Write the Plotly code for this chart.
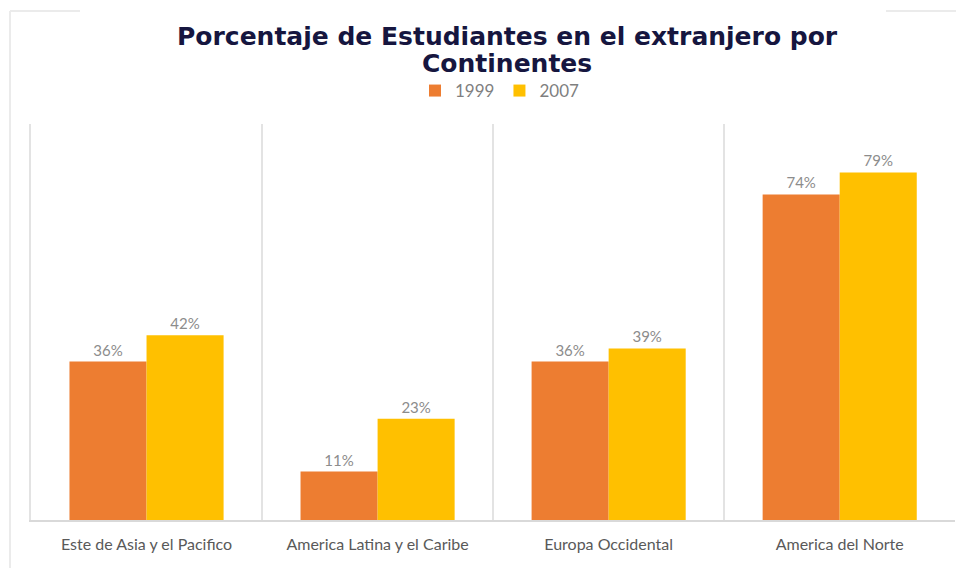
import plotly.graph_objects as go

categories = ["Este de Asia y el Pacifico", "America Latina y el Caribe", "Europa Occidental", "America del Norte"]
values_1999 = [36, 11, 36, 74]
values_2007 = [42, 23, 39, 79]
series_names = ["1999", "2007"]
colors = ["#ED7D31", "#FFC000"]

fig = go.Figure()
for name, vals, col in zip(series_names, [values_1999, values_2007], colors):
    fig.add_trace(go.Bar(
        x=categories, y=vals, name=name, marker_color=col, marker_line_width=0,
        text=[f"{v}%" for v in vals], textposition="outside", cliponaxis=False,
        textfont=dict(family="Lato", size=15, color="#8c8c8c"),
    ))

# page body has an 8px margin; lay out in reference pixel coords shifted by it
OFF = 8
W, H = 964 - OFF, 568 - OFF
ml, mr, mt, mb = 31 - OFF, 9, 124 - OFF, 48
pw, ph = W - ml - mr, H - mt - mb

def px_x(x):
    return (x - OFF - ml) / pw

def px_y(y):
    return (H - mb - (y - OFF)) / ph

frame = dict(color="#ebebeb", width=2)
shapes = [
    dict(type="line", xref="paper", yref="paper", x0=px_x(10), x1=px_x(10), y0=px_y(11), y1=px_y(568), line=frame),
    dict(type="line", xref="paper", yref="paper", x0=px_x(10), x1=px_x(80), y0=px_y(11), y1=px_y(11), line=frame),
    dict(type="line", xref="paper", yref="paper", x0=px_x(886), x1=px_x(964), y0=px_y(11), y1=px_y(11), line=frame),
]

title_font = dict(family="DejaVu Sans", size=25, color="#16163f")
annotations = [
    dict(text="<b>Porcentaje de Estudiantes en el extranjero por</b>", xref="paper", yref="paper",
         x=px_x(507), y=px_y(37), xanchor="center", yanchor="middle", showarrow=False, font=title_font),
    dict(text="<b>Continentes</b>", xref="paper", yref="paper",
         x=px_x(507), y=px_y(64), xanchor="center", yanchor="middle", showarrow=False, font=title_font),
]

fig.update_layout(
    width=W, height=H,
    margin=dict(l=ml, r=mr, t=mt, b=mb, pad=0),
    paper_bgcolor="white", plot_bgcolor="white",
    barmode="group", bargap=0.333, bargroupgap=0,
    showlegend=True,
    legend=dict(orientation="h", x=px_x(500), xanchor="center", y=px_y(91), yanchor="middle",
                font=dict(family="Lato", size=17, color="#7f7f7f"), itemwidth=30,
                traceorder="normal"),
    shapes=shapes, annotations=annotations,
    xaxis=dict(type="category", range=[-0.5, 3.499], tickson="boundaries", showgrid=True,
               gridcolor="#e3e3e3", gridwidth=2, showline=True, linecolor="#d9d9d9", linewidth=2,
               ticks="", ticklabelstandoff=9,
               tickfont=dict(family="Lato", size=16, color="#595959"), fixedrange=True),
    yaxis=dict(range=[0, 90], showgrid=False, zeroline=False, showticklabels=False,
               showline=True, linecolor="#e3e3e3", linewidth=2, ticks=""),
)

fig.write_html("out.html")
